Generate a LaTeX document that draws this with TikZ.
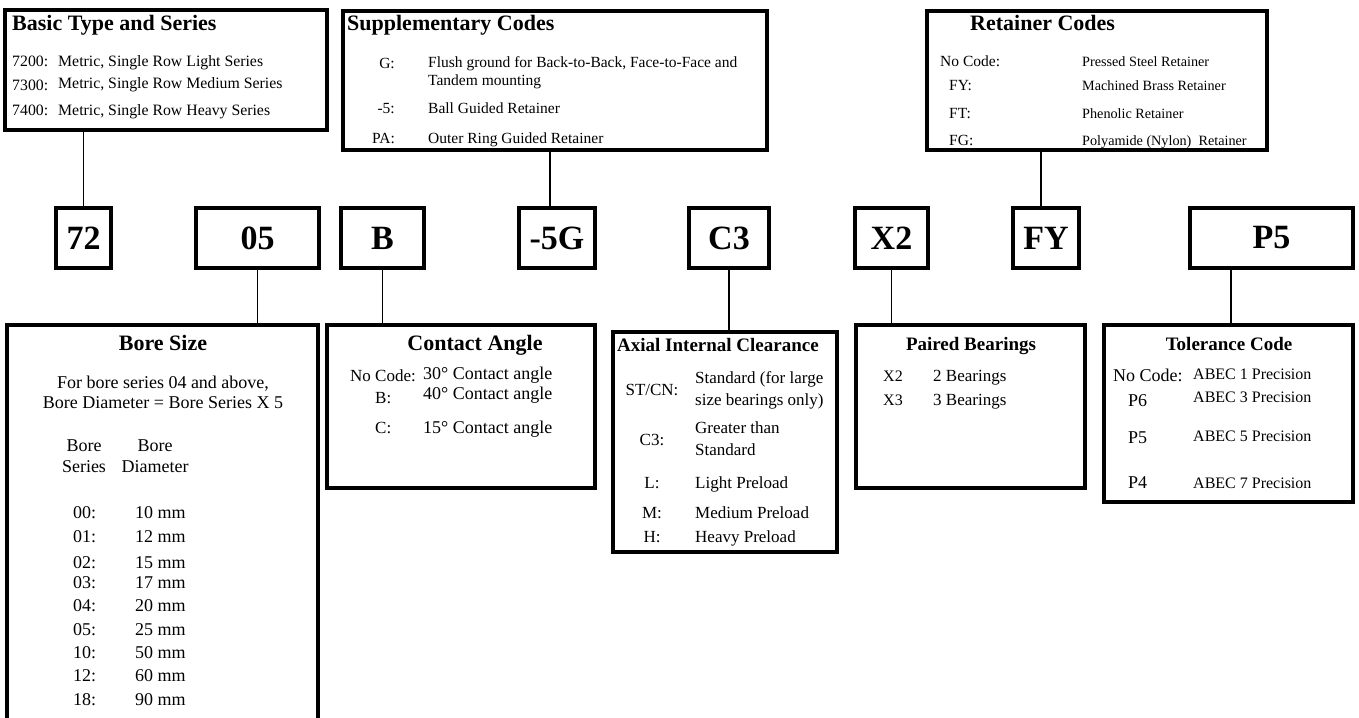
\documentclass[tikz,border=0pt]{standalone}
\usepackage{fontspec}
\setmainfont{Liberation Serif}
\usetikzlibrary{fit}
\begin{document}
\begin{tikzpicture}[x=1pt,y=-1pt,
  box/.style={draw, line width=3.6pt, inner sep=0pt},
  codebox/.style={draw, line width=3.6pt, inner sep=0pt, minimum height=60pt, font=\fontsize{34}{34}\selectfont\bfseries},
  conn/.style={line width=1.8pt},
  tx/.style={anchor=west, inner sep=0pt, text height=0.66em, text depth=0pt},
  txc/.style={tx, anchor=center},
  ttl/.style={font=\fontsize{22}{22}\selectfont\bfseries},
  ttls/.style={font=\fontsize{19}{19}\selectfont\bfseries},
  fa/.style={font=\fontsize{17}{17}\selectfont},
  fbas/.style={font=\fontsize{15.8}{15.8}\selectfont},
  fb/.style={font=\fontsize{15.5}{15.5}\selectfont},
  fr/.style={font=\fontsize{14.2}{14.2}\selectfont},
  fc/.style={font=\fontsize{18}{18}\selectfont},
  fd/.style={font=\fontsize{16}{16}\selectfont},
]
\useasboundingbox (0,0) rectangle (1359,717);

% ---------- top boxes
\node[box, fit={(5,10) (327,130)}] (basic) {};
\node[tx, ttl] (basict) at (12,27) {Basic Type and Series};
\node[tx, fbas] (b1l) at (12,63) {7200:};
\node[tx, fbas] (b1d) at (58,63) {Metric, Single Row Light Series};
\node[tx, fbas] (b2l) at (12,87) {7300:};
\node[tx, fbas] (b2d) at (58,85) {Metric, Single Row Medium Series};
\node[tx, fbas] (b3l) at (12,112) {7400:};
\node[tx, fbas] (b3d) at (58,112) {Metric, Single Row Heavy Series};

\node[box, fit={(343,11) (767,150)}] (supp) {};
\node[tx, ttl] (suppt) at (347,27) {Supplementary Codes};
\node[tx, fb, anchor=east] (s1l) at (395,65) {G:};
\node[tx, fb] (s1d) at (428,64) {Flush ground for Back-to-Back, Face-to-Face and};
\node[tx, fb] (s1e) at (428,82) {Tandem mounting};
\node[tx, fb, anchor=east] (s2l) at (395,110) {-5:};
\node[tx, fb] (s2d) at (428,110) {Ball Guided Retainer};
\node[tx, fb, anchor=east] (s3l) at (395,140) {PA:};
\node[tx, fb] (s3d) at (428,140) {Outer Ring Guided Retainer};

\node[box, fit={(927,11) (1267,150)}] (ret) {};
\node[tx, ttl] (rett) at (970,27) {Retainer Codes};
\node[tx, fb] (r1l) at (940,63) {No Code:};
\node[tx, fr] (r1d) at (1082,63) {Pressed Steel Retainer};
\node[tx, fb] (r2l) at (949,87) {FY:};
\node[tx, fr] (r2d) at (1082,87) {Machined Brass Retainer};
\node[tx, fb] (r3l) at (949,115) {FT:};
\node[tx, fr] (r3d) at (1082,115) {Phenolic Retainer};
\node[tx, fb] (r4l) at (949,142) {FG:};
\node[tx, fr] (r4d) at (1082,142) {Polyamide (Nylon)\ \ Retainer};

% ---------- code row
\node[codebox, minimum width=55pt]  (c72) at (83.5,238) {72};
\node[codebox, minimum width=123pt] (c05) at (257.5,238) {05};
\node[codebox, minimum width=83pt]  (cB)  at (382.5,238) {B};
\node[codebox, minimum width=76pt]  (c5G) at (557,238) {-5G};
\node[codebox, minimum width=80pt]  (cC3) at (729,238) {C3};
\node[codebox, minimum width=73pt]  (cX2) at (891.5,238) {X2};
\node[codebox, minimum width=66pt]  (cFY) at (1046,238) {FY};
\node[codebox, minimum width=163pt] (cP5) at (1271.5,238) {P5};

% ---------- bottom boxes
\node[box, fit={(7,325) (318,745)}] (bore) {};
\node[txc, ttl] (boret) at (163,347) {Bore Size};
\node[txc, fc] (bo1) at (163,385) {For bore series 04 and above,};
\node[txc, fc] (bo2) at (163,405) {Bore Diameter = Bore Series X 5};
\node[txc, fc] (bh1) at (84,448) {Bore};
\node[txc, fc] (bh2) at (84,469) {Series};
\node[txc, fc] (bh3) at (155,448) {Bore};
\node[txc, fc] (bh4) at (155,469) {Diameter};
\foreach \s/\d/\y [count=\i] in {00/10/515, 01/12/539, 02/15/565, 03/17/585, 04/20/608, 05/25/632, 10/50/655, 12/60/678, 18/90/702}{
  \node[tx, fc] (bs\i) at (73,\y) {\s:};
  \node[tx, fc] (bd\i) at (135,\y) {\d\ mm};
}

\node[box, fit={(327,325) (595,488)}] (contact) {};
\node[txc, ttl] (contactt) at (475,347) {Contact Angle};
\node[tx, fa] (ca1l) at (350,378) {No Code:};
\node[tx, fc] (ca1d) at (423,376) {30° Contact angle};
\node[tx, fa] (ca2l) at (375,400) {B:};
\node[tx, fc] (ca2d) at (423,396) {40° Contact angle};
\node[tx, fa] (ca3l) at (375,430) {C:};
\node[tx, fc] (ca3d) at (423,430) {15° Contact angle};

\node[box, fit={(613,332) (837,552)}] (axial) {};
\node[tx, ttls] (axialt) at (617,348) {Axial Internal Clearance};
\node[txc, fa] (ax1l) at (652,392) {ST/CN:};
\node[tx, fa] (ax1d) at (695,380) {Standard (for large};
\node[tx, fa] (ax1e) at (695,402) {size bearings only)};
\node[txc, fa] (ax2l) at (652,442) {C3:};
\node[tx, fa] (ax2d) at (695,430) {Greater than};
\node[tx, fa] (ax2e) at (695,452) {Standard};
\node[txc, fa] (ax3l) at (652,485) {L:};
\node[tx, fa] (ax3d) at (695,485) {Light Preload};
\node[txc, fa] (ax4l) at (652,515) {M:};
\node[tx, fa] (ax4d) at (695,515) {Medium Preload};
\node[txc, fa] (ax5l) at (652,539) {H:};
\node[tx, fa] (ax5d) at (695,539) {Heavy Preload};

\node[box, fit={(856,325) (1085,488)}] (paired) {};
\node[txc, ttls] (pairedt) at (971,347) {Paired Bearings};
\node[tx, fd] (p1l) at (883,378) {X2};
\node[tx, fa] (p1d) at (933,378) {2 Bearings};
\node[tx, fd] (p2l) at (883,402) {X3};
\node[tx, fa] (p2d) at (933,402) {3 Bearings};

\node[box, fit={(1104,325) (1353,502)}] (tol) {};
\node[txc, ttls] (tolt) at (1229,347) {Tolerance Code};
\node[tx, fc] (t1l) at (1113,378) {No Code:};
\node[tx, fd] (t1d) at (1193,376) {ABEC 1 Precision};
\node[tx, fc] (t2l) at (1128,403) {P6};
\node[tx, fd] (t2d) at (1193,399) {ABEC 3 Precision};
\node[tx, fc] (t3l) at (1128,440) {P5};
\node[tx, fd] (t3d) at (1193,438) {ABEC 5 Precision};
\node[tx, fc] (t4l) at (1128,485) {P4};
\node[tx, fd] (t4d) at (1193,485) {ABEC 7 Precision};

% ---------- connectors
\draw[conn] (c72.north) -- (c72.north |- basic.south);
\draw[conn] ([xshift=-7pt]c5G.north) -- ([xshift=-7pt]c5G.north |- supp.south);
\draw[conn] ([xshift=-5pt]cFY.north) -- ([xshift=-5pt]cFY.north |- ret.south);
\draw[conn] (c05.south) -- (c05.south |- bore.north);
\draw[conn] (cB.south) -- (cB.south |- contact.north);
\draw[conn] (cC3.south) -- (cC3.south |- axial.north);
\draw[conn] (cX2.south) -- (cX2.south |- paired.north);
\draw[conn] ([xshift=-40.5pt]cP5.south) -- ([xshift=-40.5pt]cP5.south |- tol.north);
\end{tikzpicture}
\end{document}
